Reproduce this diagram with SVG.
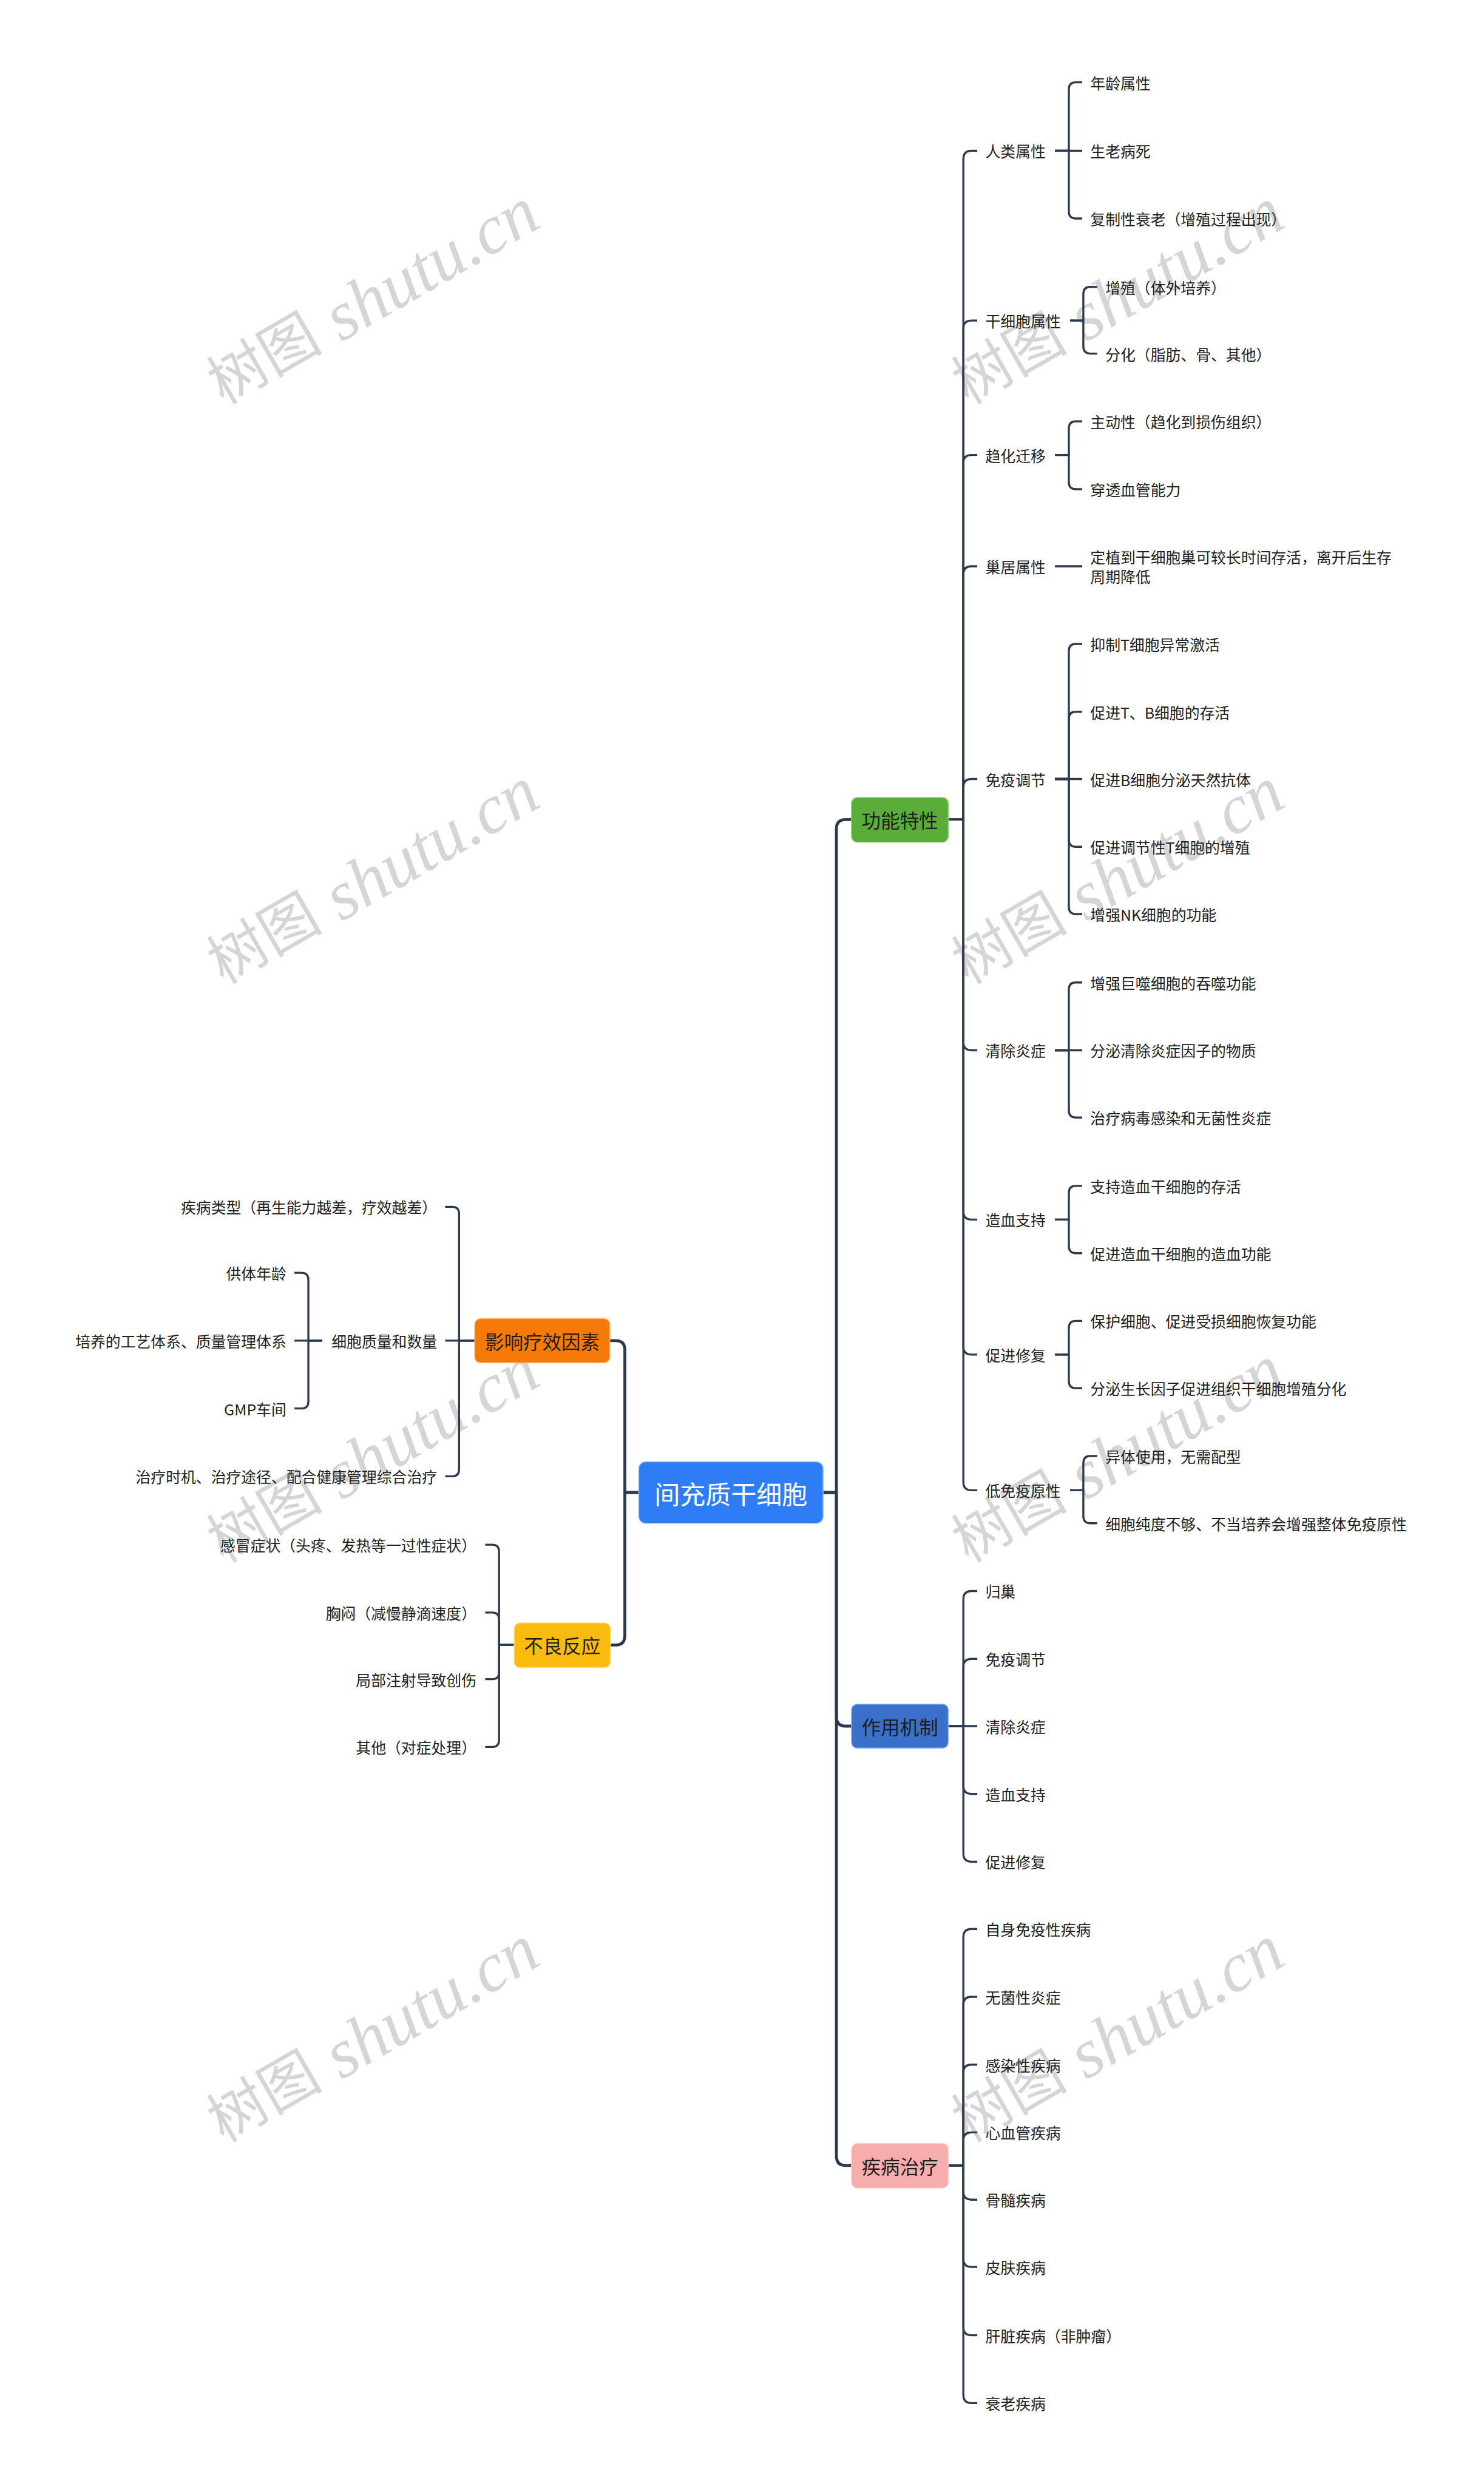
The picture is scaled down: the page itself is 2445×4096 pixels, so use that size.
<svg xmlns="http://www.w3.org/2000/svg" width="2445" height="4096" viewBox="0 0 2445 4096">
<style>
.c{fill:none;stroke:#2c3a4e;stroke-linejoin:round;stroke-width:3.5}
.m{stroke-width:5}
text{font-family:"Noto Sans CJK SC","Noto Sans",sans-serif;fill:#1e1e1e;dominant-baseline:central}
.t{font-size:26px}
.b{font-size:33px;text-anchor:middle}
.e{text-anchor:end}
.wm{font-family:"Liberation Serif","Noto Sans CJK SC",serif;fill:#d5d5d5;text-anchor:middle;dominant-baseline:central}
</style>
<rect width="2445" height="4096" fill="#ffffff"/>
<g transform="scale(0.955)">
<g id="watermarks">
<text class="wm" x="643" y="512" transform="rotate(-30 643 512)"><tspan font-size="100">树图</tspan><tspan font-size="120" font-style="italic"> shutu.cn</tspan></text>
<text class="wm" x="643" y="1512" transform="rotate(-30 643 1512)"><tspan font-size="100">树图</tspan><tspan font-size="120" font-style="italic"> shutu.cn</tspan></text>
<text class="wm" x="643" y="2510" transform="rotate(-30 643 2510)"><tspan font-size="100">树图</tspan><tspan font-size="120" font-style="italic"> shutu.cn</tspan></text>
<text class="wm" x="643" y="3510" transform="rotate(-30 643 3510)"><tspan font-size="100">树图</tspan><tspan font-size="120" font-style="italic"> shutu.cn</tspan></text>
<text class="wm" x="1928" y="512" transform="rotate(-30 1928 512)"><tspan font-size="100">树图</tspan><tspan font-size="120" font-style="italic"> shutu.cn</tspan></text>
<text class="wm" x="1928" y="1512" transform="rotate(-30 1928 1512)"><tspan font-size="100">树图</tspan><tspan font-size="120" font-style="italic"> shutu.cn</tspan></text>
<text class="wm" x="1928" y="2510" transform="rotate(-30 1928 2510)"><tspan font-size="100">树图</tspan><tspan font-size="120" font-style="italic"> shutu.cn</tspan></text>
<text class="wm" x="1928" y="3510" transform="rotate(-30 1928 3510)"><tspan font-size="100">树图</tspan><tspan font-size="120" font-style="italic"> shutu.cn</tspan></text>
</g>
<g id="connectors">
<path class="c m" d="M1420,2575 H1443 V1430 Q1443,1414 1459,1414 H1469"/>
<path class="c m" d="M1420,2575 H1443 V2962 Q1443,2978 1459,2978 H1469"/>
<path class="c m" d="M1420,2575 H1443 V3720 Q1443,3736 1459,3736 H1469"/>
<path class="c m" d="M1102,2575 H1078 V2329 Q1078,2313 1062,2313 H1052"/>
<path class="c m" d="M1102,2575 H1078 V2822 Q1078,2838 1062,2838 H1053"/>
<path class="c" d="M1636,1414 H1662 V274 Q1662,260 1676,260 H1686"/>
<path class="c" d="M1636,1414 H1662 V567 Q1662,553 1676,553 H1686"/>
<path class="c" d="M1636,1414 H1662 V799 Q1662,785 1676,785 H1686"/>
<path class="c" d="M1636,1414 H1662 V991 Q1662,977 1676,977 H1686"/>
<path class="c" d="M1636,1414 H1662 V1358 Q1662,1344 1676,1344 H1686"/>
<path class="c" d="M1636,1414 H1662 V1798 Q1662,1812 1676,1812 H1686"/>
<path class="c" d="M1636,1414 H1662 V2090 Q1662,2104 1676,2104 H1686"/>
<path class="c" d="M1636,1414 H1662 V2323 Q1662,2337 1676,2337 H1686"/>
<path class="c" d="M1636,1414 H1662 V2557 Q1662,2571 1676,2571 H1686"/>
<path class="c" d="M1636,2978 H1662 V2759 Q1662,2745 1676,2745 H1686"/>
<path class="c" d="M1636,2978 H1662 V2876 Q1662,2862 1676,2862 H1686"/>
<path class="c" d="M1636,2978 H1686"/>
<path class="c" d="M1636,2978 H1662 V3081 Q1662,3095 1676,3095 H1686"/>
<path class="c" d="M1636,2978 H1662 V3198 Q1662,3212 1676,3212 H1686"/>
<path class="c" d="M1636,3736 H1662 V3342 Q1662,3328 1676,3328 H1686"/>
<path class="c" d="M1636,3736 H1662 V3459 Q1662,3445 1676,3445 H1686"/>
<path class="c" d="M1636,3736 H1662 V3576 Q1662,3562 1676,3562 H1686"/>
<path class="c" d="M1636,3736 H1662 V3693 Q1662,3679 1676,3679 H1686"/>
<path class="c" d="M1636,3736 H1662 V3781 Q1662,3795 1676,3795 H1686"/>
<path class="c" d="M1636,3736 H1662 V3897 Q1662,3911 1676,3911 H1686"/>
<path class="c" d="M1636,3736 H1662 V4015 Q1662,4029 1676,4029 H1686"/>
<path class="c" d="M1636,3736 H1662 V4132 Q1662,4146 1676,4146 H1686"/>
<path class="c" d="M1820,260 H1844 V154 Q1844,142 1856,142 H1867"/>
<path class="c" d="M1820,260 H1867"/>
<path class="c" d="M1820,260 H1844 V365 Q1844,377 1856,377 H1867"/>
<path class="c" d="M1846,553 H1869 V507 Q1869,495 1881,495 H1893"/>
<path class="c" d="M1846,553 H1869 V598 Q1869,610 1881,610 H1893"/>
<path class="c" d="M1820,785 H1844 V739 Q1844,727 1856,727 H1867"/>
<path class="c" d="M1820,785 H1844 V832 Q1844,844 1856,844 H1867"/>
<path class="c" d="M1820,977 H1867"/>
<path class="c" d="M1820,1344 H1844 V1123 Q1844,1111 1856,1111 H1867"/>
<path class="c" d="M1820,1344 H1844 V1240 Q1844,1228 1856,1228 H1867"/>
<path class="c" d="M1820,1344 H1867"/>
<path class="c" d="M1820,1344 H1844 V1449 Q1844,1461 1856,1461 H1867"/>
<path class="c" d="M1820,1344 H1844 V1565 Q1844,1577 1856,1577 H1867"/>
<path class="c" d="M1820,1812 H1844 V1707 Q1844,1695 1856,1695 H1867"/>
<path class="c" d="M1820,1812 H1867"/>
<path class="c" d="M1820,1812 H1844 V1916 Q1844,1928 1856,1928 H1867"/>
<path class="c" d="M1820,2104 H1844 V2058 Q1844,2046 1856,2046 H1867"/>
<path class="c" d="M1820,2104 H1844 V2150 Q1844,2162 1856,2162 H1867"/>
<path class="c" d="M1820,2337 H1844 V2291 Q1844,2279 1856,2279 H1867"/>
<path class="c" d="M1820,2337 H1844 V2383 Q1844,2395 1856,2395 H1867"/>
<path class="c" d="M1846,2571 H1869 V2524 Q1869,2512 1881,2512 H1893"/>
<path class="c" d="M1846,2571 H1869 V2616 Q1869,2628 1881,2628 H1893"/>
<path class="c" d="M819,2313 H792 V2094 Q792,2082 780,2082 H768"/>
<path class="c" d="M819,2313 H768"/>
<path class="c" d="M819,2313 H792 V2535 Q792,2547 780,2547 H768"/>
<path class="c" d="M556,2313 H532 V2208 Q532,2196 520,2196 H508"/>
<path class="c" d="M556,2313 H508"/>
<path class="c" d="M556,2313 H532 V2418 Q532,2430 520,2430 H508"/>
<path class="c" d="M887,2838 H861 V2677 Q861,2665 849,2665 H837"/>
<path class="c" d="M887,2838 H861 V2794 Q861,2782 849,2782 H837"/>
<path class="c" d="M887,2838 H861 V2885 Q861,2897 849,2897 H837"/>
<path class="c" d="M887,2838 H861 V3002 Q861,3014 849,3014 H837"/>
</g>
<g id="root">
<rect x="1102" y="2522" width="318" height="106" rx="12" fill="#2f7df6" stroke="#8dbcff" stroke-width="1.5"/>
<text x="1261" y="2575" font-size="44" text-anchor="middle" style="fill:#ffffff">间充质干细胞</text>
</g>
<g id="n-gongneng">
<rect x="1469" y="1376" width="167" height="77" rx="10" fill="#5bad3a" stroke="#8fd06f" stroke-width="1.5"/>
<text class="b" x="1552.5" y="1414">功能特性</text>
</g>
<g id="n-zuoyong">
<rect x="1469" y="2940" width="167" height="76" rx="10" fill="#3a70c9" stroke="#8fb3ef" stroke-width="1.5"/>
<text class="b" x="1552.5" y="2978">作用机制</text>
</g>
<g id="n-jibing">
<rect x="1469" y="3698" width="167" height="77" rx="10" fill="#f8adad" stroke="#fcd0d0" stroke-width="1.5"/>
<text class="b" x="1552.5" y="3736">疾病治疗</text>
</g>
<g id="n-yingxiang">
<rect x="819" y="2275" width="233" height="76" rx="10" fill="#f77a08" stroke="#ffb070" stroke-width="1.5"/>
<text class="b" x="935.5" y="2313">影响疗效因素</text>
</g>
<g id="n-buliang">
<rect x="887" y="2800" width="166" height="77" rx="10" fill="#f9bb0d" stroke="#ffdc80" stroke-width="1.5"/>
<text class="b" x="970" y="2838">不良反应</text>
</g>
<g id="l2-right">
<text class="t" x="1700" y="260">人类属性</text>
<text class="t" x="1700" y="553">干细胞属性</text>
<text class="t" x="1700" y="785">趋化迁移</text>
<text class="t" x="1700" y="977">巢居属性</text>
<text class="t" x="1700" y="1344">免疫调节</text>
<text class="t" x="1700" y="1812">清除炎症</text>
<text class="t" x="1700" y="2104">造血支持</text>
<text class="t" x="1700" y="2337">促进修复</text>
<text class="t" x="1700" y="2571">低免疫原性</text>
<text class="t" x="1700" y="2745">归巢</text>
<text class="t" x="1700" y="2862">免疫调节</text>
<text class="t" x="1700" y="2978">清除炎症</text>
<text class="t" x="1700" y="3095">造血支持</text>
<text class="t" x="1700" y="3212">促进修复</text>
<text class="t" x="1700" y="3328">自身免疫性疾病</text>
<text class="t" x="1700" y="3445">无菌性炎症</text>
<text class="t" x="1700" y="3562">感染性疾病</text>
<text class="t" x="1700" y="3679">心血管疾病</text>
<text class="t" x="1700" y="3795">骨髓疾病</text>
<text class="t" x="1700" y="3911">皮肤疾病</text>
<text class="t" x="1700" y="4029">肝脏疾病（非肿瘤）</text>
<text class="t" x="1700" y="4146">衰老疾病</text>
</g>
<g id="leaves-right">
<text class="t" x="1881" y="142">年龄属性</text>
<text class="t" x="1881" y="260">生老病死</text>
<text class="t" x="1881" y="377">复制性衰老（增殖过程出现）</text>
<text class="t" x="1907" y="495">增殖（体外培养）</text>
<text class="t" x="1907" y="610">分化（脂肪、骨、其他）</text>
<text class="t" x="1881" y="727">主动性（趋化到损伤组织）</text>
<text class="t" x="1881" y="844">穿透血管能力</text>
<text class="t" x="1881" y="960">定植到干细胞巢可较长时间存活，离开后生存</text>
<text class="t" x="1881" y="994">周期降低</text>
<text class="t" x="1881" y="1111">抑制T细胞异常激活</text>
<text class="t" x="1881" y="1228">促进T、B细胞的存活</text>
<text class="t" x="1881" y="1344">促进B细胞分泌天然抗体</text>
<text class="t" x="1881" y="1461">促进调节性T细胞的增殖</text>
<text class="t" x="1881" y="1577">增强NK细胞的功能</text>
<text class="t" x="1881" y="1695">增强巨噬细胞的吞噬功能</text>
<text class="t" x="1881" y="1812">分泌清除炎症因子的物质</text>
<text class="t" x="1881" y="1928">治疗病毒感染和无菌性炎症</text>
<text class="t" x="1881" y="2046">支持造血干细胞的存活</text>
<text class="t" x="1881" y="2162">促进造血干细胞的造血功能</text>
<text class="t" x="1881" y="2279">保护细胞、促进受损细胞恢复功能</text>
<text class="t" x="1881" y="2395">分泌生长因子促进组织干细胞增殖分化</text>
<text class="t" x="1907" y="2512">异体使用，无需配型</text>
<text class="t" x="1907" y="2628">细胞纯度不够、不当培养会增强整体免疫原性</text>
</g>
<g id="left-texts">
<text class="t e" x="754" y="2082">疾病类型（再生能力越差，疗效越差）</text>
<text class="t e" x="754" y="2313">细胞质量和数量</text>
<text class="t e" x="754" y="2547">治疗时机、治疗途径、配合健康管理综合治疗</text>
<text class="t e" x="494" y="2196">供体年龄</text>
<text class="t e" x="494" y="2313">培养的工艺体系、质量管理体系</text>
<text class="t e" x="494" y="2430">GMP车间</text>
<text class="t e" x="822" y="2665">感冒症状（头疼、发热等一过性症状）</text>
<text class="t e" x="822" y="2782">胸闷（减慢静滴速度）</text>
<text class="t e" x="822" y="2897">局部注射导致创伤</text>
<text class="t e" x="822" y="3014">其他（对症处理）</text>
</g>
</g>
</svg>
